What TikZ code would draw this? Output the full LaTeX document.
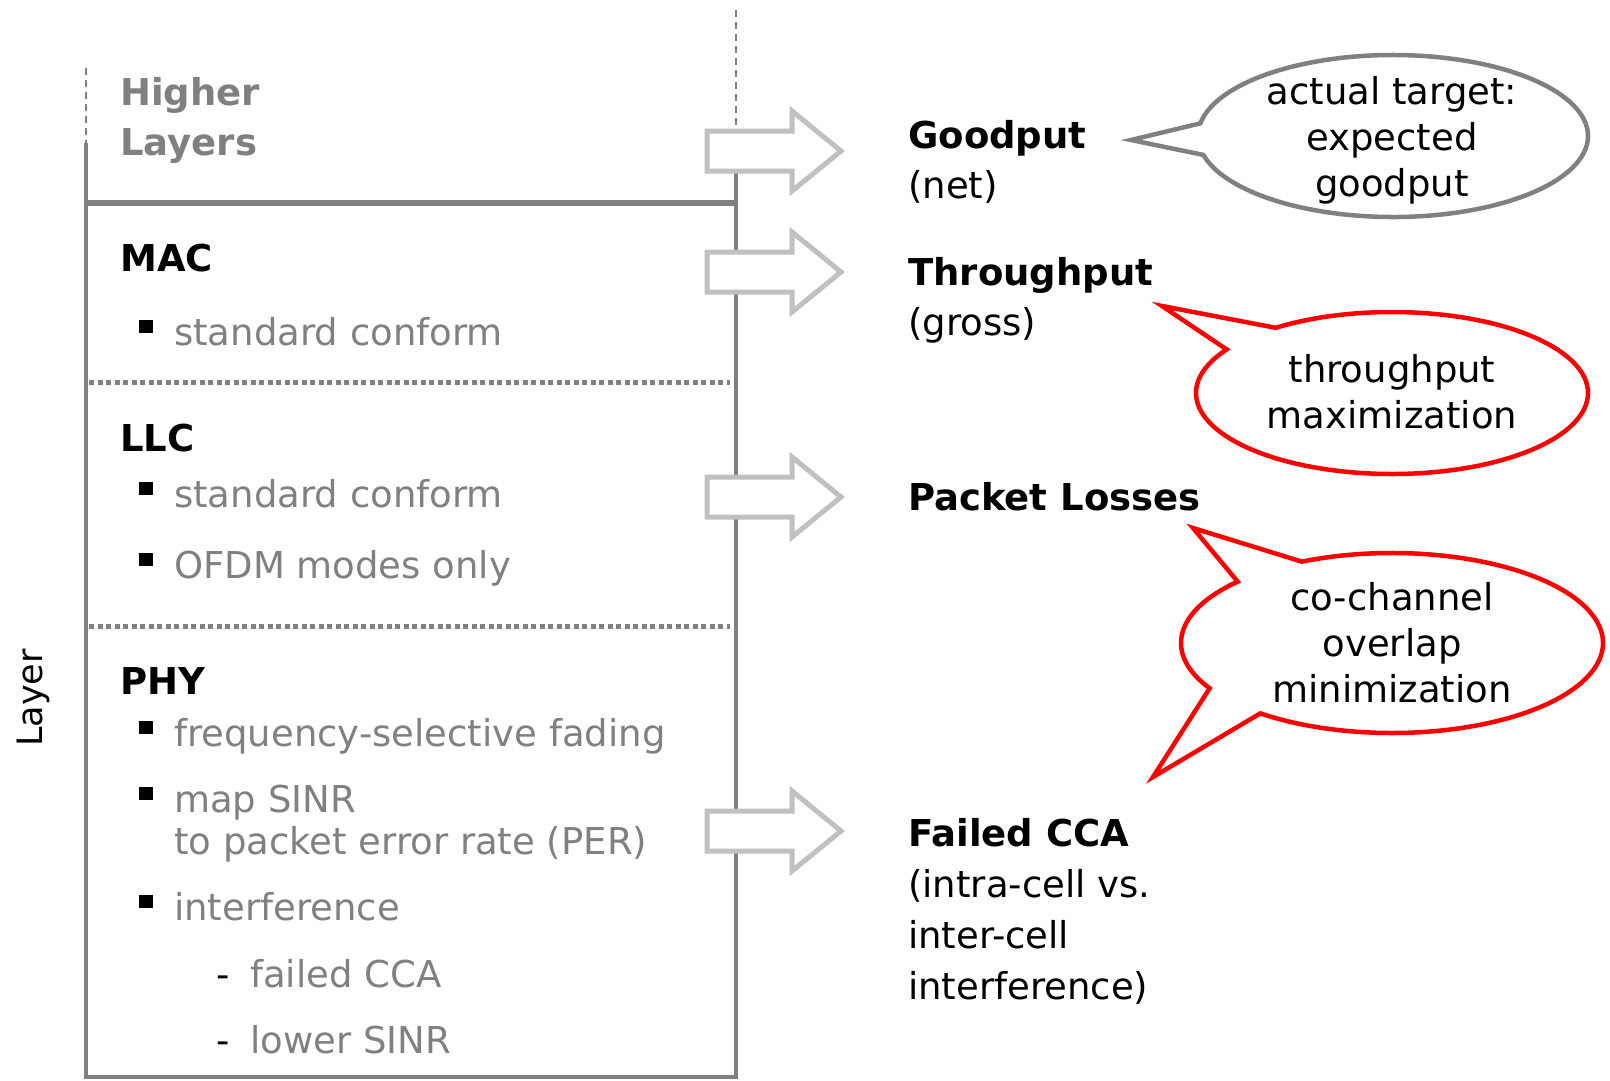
\documentclass[tikz,border=0pt]{standalone}
\usepackage{fontspec}
\setmainfont{DejaVu Sans}
\usetikzlibrary{positioning}
\definecolor{layerGray}{HTML}{808080}
\definecolor{arrowGray}{HTML}{C0C0C0}
\definecolor{bubbleRed}{HTML}{FF0000}

\newcommand{\sqbul}{\llap{\color{black}\rule[12pt]{14pt}{13pt}\hspace{21pt}}}
\newcommand{\subdash}{\llap{\color{black}-\hspace{20pt}}}
\newcommand{\blockarrow}[1]{% block arrow at height #1
  \draw[blockarrow] (707,{#1-20}) -- (792,{#1-20}) -- (792,{#1-40}) -- (841,#1)
    -- (792,{#1+40}) -- (792,{#1+20}) -- (707,{#1+20}) -- cycle;}

\begin{document}
\begin{tikzpicture}[x=1pt, y=-1pt,
    every node/.style={inner sep=0pt, font=\fontsize{37}{50}\selectfont},
    head/.style={anchor=base west, font=\fontsize{37}{50}\selectfont\bfseries},
    item/.style={anchor=base west, text=layerGray},
    stack/.style={layerGray, line width=3.5pt},
    sep/.style={layerGray, line width=5pt, dash pattern=on 5pt off 3.5pt},
    guide/.style={layerGray, line width=1.2pt, dash pattern=on 7pt off 5pt},
    blockarrow/.style={draw=arrowGray, line width=5pt, fill=white, line join=miter},
    bubble/.style={line width=4.5pt, fill=white, line join=miter},
    bubbletext/.style={align=center, font=\fontsize{37}{46}\selectfont}]
    \useasboundingbox (0,0) rectangle (1610,1080);

    % layer stack
    \draw[guide] (86,68) -- (86,143);
    \draw[guide] (736,10) -- (736,130);
    \draw[stack] (86,143) -- (86,1077) -- (736,1077) -- (736,130);
    \draw[layerGray, line width=5.5pt] (86,203) -- (736,203);
    \draw[sep] (89,382) -- (730,382);
    \draw[sep] (89,626) -- (730,626);

    % multi-line nodes sit on the baseline of their last line
    \node[head, text=layerGray, align=left] (higher) at (120,155) {Higher\\Layers};
    \node[head] (mac) at (120,271) {MAC};
    \node[item] (mac1) at (174,345) {\sqbul standard conform};
    \node[head] (llc) at (120,451) {LLC};
    \node[item] (llc1) at (174,507) {\sqbul standard conform};
    \node[item] (llc2) at (174,578) {\sqbul OFDM modes only};
    \node[head] (phy) at (120,694) {PHY};
    \node[item] (phy1) at (174,746) {\sqbul frequency-selective fading};
    \node[item, align=left, font=\fontsize{37}{42}\selectfont] (phy2) at (174,854)
        {\sqbul map SINR\\to packet error rate (PER)};
    \node[item] (phy3) at (174,920) {\sqbul interference};
    \node[item] (phy4) at (250,987) {\subdash failed CCA};
    \node[item] (phy5) at (250,1053) {\subdash lower SINR};
    \node[rotate=90, font=\fontsize{35}{42}\selectfont] (layer) at (33,698) {Layer};

    % arrows out of the stack
    \blockarrow{151}
    \blockarrow{272}
    \blockarrow{497}
    \blockarrow{831}

    % metrics
    \node[anchor=base west, align=left] (goodput) at (908,198) {\textbf{Goodput}\\(net)};
    \node[anchor=base west, align=left] (throughput) at (908,335) {\textbf{Throughput}\\(gross)};
    \node[head] (losses) at (908,510) {Packet Losses};
    \node[anchor=base west, align=left, font=\fontsize{37}{51}\selectfont] (failed) at (908,999)
        {\textbf{Failed CCA}\\(intra-cell vs.\\inter-cell\\interference)};

    % callouts
    \coordinate (cA) at (1393,136);
    \coordinate (tipA) at (1131,140);
    \draw[bubble, draw=layerGray] ([shift={(cA)}]166.5:195 and 81) -- (tipA)
        -- ([shift={(cA)}]189:195 and 81)
        arc[start angle=189, end angle=526.5, x radius=195, y radius=81] -- cycle;
    \node[bubbletext] (target) at (1392,140) {actual target:\\expected\\goodput};

    \coordinate (cB) at (1392,393);
    \coordinate (tipB) at (1162,306);
    \draw[bubble, draw=bubbleRed] ([shift={(cB)}]212.5:196 and 81) -- (tipB)
        -- ([shift={(cB)}]233.6:196 and 81)
        arc[start angle=233.6, end angle=572.5, x radius=196, y radius=81] -- cycle;
    \node[bubbletext] (tpmax) at (1392,392) {throughput\\maximization};

    \coordinate (cC) at (1392,643);
    \coordinate (tipC1) at (1193,528);
    \coordinate (tipC2) at (1153,777);
    \draw[bubble, draw=bubbleRed] ([shift={(cC)}]223:211 and 90) -- (tipC1)
        -- ([shift={(cC)}]244.7:211 and 90)
        arc[start angle=244.7, end angle=488.6, x radius=211, y radius=90] -- (tipC2)
        -- ([shift={(cC)}]149.8:211 and 90)
        arc[start angle=149.8, end angle=223, x radius=211, y radius=90] -- cycle;
    \node[bubbletext] (overlap) at (1392,643) {co-channel\\overlap\\minimization};
\end{tikzpicture}
\end{document}
